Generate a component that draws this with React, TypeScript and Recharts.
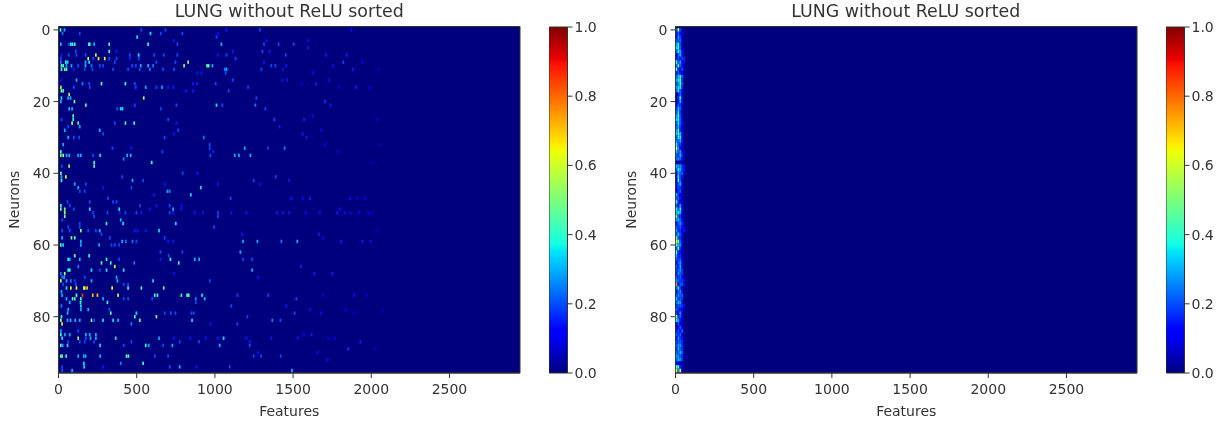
import React from 'react';
import { ScatterChart, Scatter, XAxis, YAxis, ReferenceArea, ComposedChart, Area, Label } from 'recharts';

const titleText = 'LUNG without ReLU sorted';
const featureTicks = [0, 500, 1000, 1500, 2000, 2500];
const neuronTicks = [0, 20, 40, 60, 80];
const colorTicks = [0, 0.2, 0.4, 0.6, 0.8, 1];
const barData = [{ pos: 0, top: 1 }, { pos: 1, top: 1 }];

// [neuron, feature, value]
const leftTop: number[][] = [
  [0,13,.45],[0,38,.3],[0,530,.2],[0,684,.2],[0,1074,.15],[0,1287,.2],
  [1,26,.25],[1,136,.2],[1,588,.35],[1,654,.2],[1,792,.2],[1,1020,.15],
  [2,503,.35],[2,1010,.2],[3,737,.15],[3,1329,.15],
  [4,15,.3],[4,66,.2],[4,79,.4],[4,90,.4],[4,104,.4],[4,194,.4],[4,200,.4],[4,228,.3],[4,324,.4],[4,573,.4],[4,760,.2],[4,1042,.3],[4,1314,.2],[4,1408,.2],[4,1504,.2],
  [6,111,.2],[6,324,.4],[6,371,.15],[6,1116,.15],[6,1304,.2],[6,1350,.15],
  [7,19,.15],[7,66,.2],[7,115,.2],[7,173,.2],[7,239,.55],[7,456,.2],[7,513,.35],[7,611,.2],[7,673,.2],[7,760,.2],[7,1020,.15],[7,1074,.2],[7,1453,.2],
  [8,15,.2],[8,190,.6],[8,222,.2],[8,256,.65],[8,296,.65],[8,324,.2],[8,371,.2],[8,456,.15],[8,513,.2],[8,1133,.2],
  [9,15,.25],[9,47,.4],[9,58,.35],[9,173,.3],[9,196,.35],[9,360,.2],[9,626,.2],[9,748,.2],[9,829,.5],[9,1314,.15],
  [10,19,.45],[10,30,.45],[10,51,.3],[10,83,.3],[10,126,.2],[10,173,.3],[10,211,.25],[10,264,.2],[10,285,.2],[10,471,.2],[10,494,.2],[10,526,.3],[10,573,.3],[10,605,.25],[10,803,.5],[10,950,.45],[10,960,.45],[10,984,.3],[10,1361,.2],[10,1387,.2],[10,1457,.15],
  [11,19,.4],[11,40,.5],[11,51,.45],[11,98,.15],[11,168,.2],[11,217,.2],[11,349,.2],[11,445,.2],[11,520,.2],[11,584,.25],[11,669,.2],[11,739,.2],[11,1063,.25],[11,1074,.3],[11,1297,.2],[11,1436,.15],
  [12,888,.15],[12,914,.15],[12,1069,.2],
  [14,19,.15],[14,115,.3],[14,1116,.2],[14,1431,.15],[14,1463,.15],
  [15,153,.25],[15,196,.2],[15,275,.45],[15,428,.4],[15,488,.2],[15,860,.15],[15,886,.15],[15,1005,.2],
  [16,15,.5],[16,98,.2],[16,200,.2],[16,494,.2],[16,558,.3],[16,626,.2],[16,662,.3],[16,701,.15],[16,733,.15],[16,1212,.2],
  [17,19,.55],[17,30,.4],[17,814,.15],[17,860,.15],[17,1088,.2],
  [18,68,.55],[19,19,.35],[19,62,.3],[19,77,.3],[19,545,.55],[19,1265,.2],
  [20,15,.3],[20,102,.5],
  [21,175,.4],[21,488,.2],[21,754,.2],[21,1010,.35],[21,1048,.2],[21,1259,.25],
  [22,68,.3],[22,87,.3],[22,375,.2],[22,398,.35],[22,409,.35],[22,654,.2],[22,1323,.2],
  [24,94,.45],[25,19,.2],[25,94,.4],[25,701,.2],[25,1380,.2],
  [26,87,.55],[26,126,.45],[26,360,.2],[26,428,.4],[26,484,.4],[26,754,.15],
  [27,62,.2],[27,136,.3],[27,1414,.15],
  [28,40,.3],[28,264,.3],[28,765,.2],[29,285,.2],[29,739,.15],
  [30,62,.3],[30,98,.2],[30,132,.2],[30,679,.2],[30,929,.25],
  [32,30,.3],[32,967,.2],
  [33,345,.2],[33,466,.15],[33,967,.2],[33,1191,.3],[33,1340,.2],[33,1446,.25],
  [34,15,.4],[34,664,.2],[34,988,.15],
  [35,15,.45],[35,30,.55],[35,51,.3],[35,68,.3],[35,126,.3],[35,143,.3],[35,222,.2],[35,266,.35],[35,439,.3],[35,462,.3],[35,971,.2],[35,1127,.3],[35,1154,.3],[35,1227,.3],
  [36,417,.25],[37,228,.4],[37,596,.4],[38,21,.2],[38,228,.4],[38,68,.55],
  [40,15,.45],[40,794,.2],[40,888,.15],
  [41,19,.3],[41,47,.6],[41,407,.2],[41,1389,.2],
  [42,19,.4],[42,473,.3],[42,541,.2],[42,1248,.2],[42,1474,.15],
  [43,104,.3],[43,175,.2],[43,679,.15],[43,1020,.15],[43,1287,.15],
  [44,126,.3],[44,285,.15],[44,466,.2],[44,910,.35],
  [45,136,.2],[45,168,.2],[45,697,.3],[45,711,.25],
  [46,846,.35],[46,611,.15],[47,317,.2],[47,1101,.2],[47,1489,.15],
  [48,58,.2],[48,200,.2],[48,349,.2],[48,371,.2],
  [49,15,.4],[49,72,.2],[49,520,.2],[49,626,.15],[49,711,.2],[49,786,.15],
];

const leftBottom: number[][] = [
  [50,15,.45],[50,40,.5],[50,98,.2],[50,200,.35],[50,388,.35],[50,584,.15],[50,733,.3],[50,786,.15],
  [51,40,.55],[51,222,.2],[51,313,.2],[51,392,.15],[51,428,.2],[51,498,.2],[51,530,.15],[51,711,.2],[51,733,.15],[51,871,.15],[51,924,.15],[51,1020,.2],[51,1105,.15],[51,1202,.15],[51,1397,.15],[51,1436,.15],[51,1474,.15],
  [52,40,.5],[52,228,.2],[52,1020,.2],
  [53,23,.2],[53,398,.3],
  [54,136,.2],[54,307,.4],[54,413,.35],[54,750,.35],
  [55,62,.2],[55,136,.2],[55,995,.2],
  [56,23,.2],[56,72,.2],[56,143,.5],[56,190,.2],[56,239,.2],[56,264,.3],[56,488,.15],[56,505,.15],[56,558,.15],[56,643,.35],
  [57,275,.2],[57,1174,.15],
  [58,23,.3],[58,83,.5],[58,104,.45],[58,328,.2],[58,679,.2],
  [59,143,.3],[59,407,.3],[59,430,.25],[59,473,.25],[59,498,.2],[59,701,.15],[59,733,.15],[59,1180,.3],[59,1272,.3],[59,1425,.25],[59,1527,.3],
  [60,15,.45],[60,30,.35],[60,143,.3],[60,260,.3],[60,339,.2],[60,360,.2],[60,388,.2],
  [62,652,.2],[62,792,.2],[62,1163,.3],
  [63,104,.5],[63,196,.4],[63,705,.2],
  [64,62,.4],[64,72,.3],[64,136,.3],[64,307,.4],[64,388,.2],[64,652,.15],[64,716,.4],[64,871,.3],[64,899,.3],[64,1180,.2],[64,1238,.2],
  [65,275,.45],[65,334,.4],[65,484,.25],[65,769,.4],
  [66,126,.25],[66,360,.6],
  [67,62,.4],[67,72,.4],[67,211,.35],[67,264,.2],[67,307,.35],[67,417,.35],[67,1238,.3],
  [68,15,.25],[68,40,.55],[68,739,.15],
  [69,23,.25],[69,36,.3],[69,168,.2],[69,371,.3],[69,1276,.15],
  [70,15,.55],[70,51,.3],[70,79,.25],[70,104,.2],[70,211,.3],[70,377,.3],[70,605,.35],[70,967,.2],
  [71,30,.2],[71,111,.2],[71,417,.2],[71,445,.2],
  [72,51,.35],[72,79,.65],[72,115,.6],[72,162,.55],[72,168,.6],[72,183,.7],[72,343,.65],[72,445,.4],[72,530,.4],[72,673,.45],
  [73,19,.3],
  [74,23,.3],[74,115,.5],[74,153,.85],[74,219,.7],[74,249,.7],[74,381,.6],[74,616,.4],[74,633,.4],[74,786,.4],[74,822,.45],[74,833,.45],[74,918,.35],[74,1144,.2],[74,1342,.2],
  [75,51,.3],[75,90,.45],[75,104,.45],[75,143,.4],[75,285,.3],[75,417,.2],[75,445,.2],[75,599,.2],[75,878,.25],[75,935,.3],[75,1521,.2],
  [76,72,.3],[76,141,.4],[76,313,.4],[76,878,.2],
  [77,19,.25],[77,143,.35],[77,1105,.2],[77,1457,.15],
  [78,62,.3],[78,143,.3],[78,190,.3],[78,324,.2],
  [79,58,.3],[79,334,.45],[79,498,.35],[79,679,.2],[79,718,.2],[79,748,.2],[79,850,.2],[79,865,.2],[79,1510,.2],
  [80,19,.4],[80,488,.4],[80,626,.5],[80,1208,.2],
  [81,15,.55],[81,58,.3],[81,77,.3],[81,107,.3],[81,136,.3],[81,211,.5],[81,228,.2],[81,285,.35],[81,349,.35],[81,381,.3],[81,520,.45],[81,854,.35],[81,1367,.25],[81,1419,.2],
  [82,23,.6],[82,466,.25],[82,973,.15],[82,1144,.2],
  [84,15,.3],[84,126,.2],
  [85,15,.4],[85,40,.3],[85,72,.3],[85,175,.3],[85,200,.3],[85,239,.3],
  [86,23,.35],[86,126,.55],[86,175,.2],[86,204,.3],[86,239,.3],[86,366,.35],[86,643,.3],[86,739,.15],[86,843,.15],[86,941,.15],[86,1020,.15],[86,1056,.35],[86,1202,.15],[86,1361,.15],[86,1530,.15],
  [87,62,.2],[87,136,.2],[87,168,.2],[87,228,.2],[87,466,.2],[87,775,.2],[87,899,.2],[87,1223,.15],
  [88,15,.45],[88,26,.3],[88,58,.35],[88,266,.35],[88,417,.2],[88,558,.4],[88,577,.3],[88,669,.2],[88,728,.3],[88,1031,.3],[88,1223,.2],
  [90,1276,.15],
  [91,15,.45],[91,23,.45],[91,49,.4],[91,126,.3],[91,162,.3],[91,173,.3],[91,266,.3],[91,435,.45],[91,447,.45],[91,616,.2],[91,701,.2],[91,1248,.2],[91,1295,.2],[91,1421,.2],
  [93,162,.35],[93,398,.25],[93,541,.4],
  [94,23,.2],[94,164,.35],[94,285,.15],[94,711,.2],[94,775,.3],[94,882,.15],[94,1095,.2],
  [95,23,.2],[95,87,.3],[95,1493,.3],
];

const leftFaint: number[][] = [
  [0,1874,.14],[3,1597,.14],[5,1597,.16],[7,1710,.16],[7,1842,.16],[9,1821,.2],[10,1757,.14],[9,1944,.14],[11,1881,.16],[11,2051,.08],[12,1629,.14],[14,1731,.14],[15,1646,.16],[15,1555,.12],[16,1795,.12],[16,1902,.16],[16,1987,.12],[20,1704,.18],[21,1740,.16],[24,1625,.14],[25,1570,.16],[25,2034,.08],[28,1682,.14],[29,1561,.16],[30,1587,.16],[32,1704,.12],[32,2059,.07],[34,1789,.12],[37,2008,.07],[47,1561,.14],[47,1608,.16],[47,1864,.14],[47,1910,.12],[47,1959,.12],
  [51,1580,.14],[51,1672,.14],[51,1783,.16],[50,1800,.14],[51,1832,.14],[51,1864,.1],[51,1923,.12],[51,1981,.12],[51,2008,.1],[57,1665,.16],[58,1693,.14],[59,1806,.16],[59,1942,.16],[59,1996,.14],[56,2038,.06],[66,1550,.16],[68,1636,.16],[68,1751,.16],[74,1693,.12],[74,1891,.14],[74,1970,.12],[78,1608,.14],[79,1676,.14],[78,1836,.12],[79,1891,.1],[78,2072,.06],[85,1570,.12],[85,1619,.16],[86,1725,.1],[86,1768,.12],[87,1930,.16],[90,1655,.14],[89,1853,.18],[89,2023,.08],[92,1721,.14],
];

const rightColumns = [7, 19, 31, 43, 55];
const rightValues: number[][] = [
  [.2,.6,.2,.1,0],[.15,.22,.14,.08,0],[.12,.3,.18,.08,0],[.2,.22,.24,.1,0],[.3,.4,.2,.08,0],[.35,.45,.22,.1,0],[.22,.4,.3,.14,.05],[.12,.22,.32,.14,0],
  [.15,.2,.14,.2,.16],[.45,.22,.3,.1,.14],[.22,.45,.22,.14,.06],[.45,.18,.1,.2,.06],[.16,.22,.14,.1,0],[.22,.32,.4,.22,.05],[.28,.4,.45,.18,0],[.22,.28,.45,.22,0],
  [.28,.34,.42,.18,0],[.22,.38,.22,.14,0],[.06,.14,.24,.1,0],[.06,.18,.38,.14,0],[.03,.14,.32,.14,0],[.14,.22,.18,.1,0],[.18,.32,.22,.08,0],[.22,.38,.18,.08,0],
  [.28,.45,.22,.1,0],[.34,.38,.22,.1,0],[.22,.38,.22,.14,.06],[.22,.32,.18,.08,0],[.28,.45,.18,.1,0],[.32,.45,.32,.14,0],[.22,.38,.38,.14,0],[.28,.22,.32,.14,0],
  [.38,.22,.18,.1,0],[.58,.28,.14,.08,0],[.32,.22,.28,.14,.05],[.22,.18,.32,.18,.05],[.22,.28,.22,.14,0],[.03,.04,.05,.04,0],[.32,.28,.28,.18,.14],[.22,.38,.32,.18,.14],
  [.1,.32,.22,.22,.1],[.14,.38,.18,.14,0],[.1,.45,.22,.1,0],[.14,.22,.32,.1,0],[.14,.22,.18,.1,0],[.1,.18,.22,.08,0],[.32,.18,.1,.08,0],[.22,.22,.14,.06,0],
  [.45,.18,.1,.08,0],[.22,.14,.28,.1,0],[.38,.22,.38,.14,0],[.32,.38,.32,.1,0],[.5,.22,.18,.1,0],[.28,.32,.22,.14,.05],[.14,.22,.28,.18,.05],[.22,.18,.22,.14,.1],
  [.28,.18,.18,.1,.14],[.22,.32,.22,.1,0],[.5,.22,.18,.1,0],[.6,.5,.22,.14,0],[.38,.32,.28,.1,0],[.22,.5,.18,.08,0],[.45,.18,.14,.08,0],[.32,.14,.18,.1,0],
  [.22,.18,.22,.1,0],[.14,.22,.28,.14,0],[.22,.14,.32,.14,0],[.18,.22,.28,.18,0],[.14,.28,.22,.18,0],[.22,.18,.22,.14,.05],[.28,.22,.18,.18,.14],[.75,.14,.22,.22,.14],
  [.22,.38,.18,.1,0],[.14,.22,.28,.14,0],[.18,.28,.22,.22,.06],[.32,.18,.22,.18,0],[.22,.32,.28,.14,0],[.18,.22,.22,.18,.14],[.22,.18,.14,.1,.05],[.18,.14,.28,.1,0],
  [.55,.18,.22,.1,0],[.38,.28,.14,.08,0],[.05,.22,.1,.08,0],[.1,.14,.22,.1,0],[.14,.22,.1,.22,.05],[.22,.18,.22,.1,0],[.14,.28,.18,.14,.05],[.18,.22,.22,.18,.05],
  [.22,.28,.28,.18,.05],[.18,.32,.22,.18,0],[.22,.22,.32,.22,.05],[.28,.28,.22,.18,.05],[.22,.32,.28,.18,0],[.14,.1,.06,.06,0],[.45,.42,.14,.06,0],[.58,.25,.62,.1,0],
];

const jetR = [[0,0],[.35,0],[.66,1],[.89,1],[1,.5]];
const jetG = [[0,0],[.125,0],[.375,1],[.64,1],[.91,0],[1,0]];
const jetB = [[0,.5],[.11,1],[.34,1],[.65,0],[1,0]];
const lerp = (t: number[][], v: number) => {
  for (let i = 1; i < t.length; i++) {
    if (v <= t[i][0]) return t[i-1][1] + (t[i][1]-t[i-1][1])*(v-t[i-1][0])/(t[i][0]-t[i-1][0]);
  }
  return t[t.length-1][1];
};
const jet = (v: number) => `rgb(${Math.round(lerp(jetR,v)*255)},${Math.round(lerp(jetG,v)*255)},${Math.round(lerp(jetB,v)*255)})`;
const jetStops = [0,.11,.125,.34,.35,.375,.5,.64,.65,.66,.89,.91,1];

const toPoints = (rows: number[][]) => rows.map(([neuron, feature, value]) => ({ neuron, feature, value }));
const leftPoints = toPoints([...leftFaint, ...leftTop, ...leftBottom]);
const rightPoints = rightValues.flatMap((row, neuron) =>
  row.map((value, i) => ({ neuron, feature: rightColumns[i], value })).filter(p => p.value > 0));

const textColor = '#333';
const FONT = '"DejaVu Sans"';
const tickStyle = { fontSize: 14, fontFamily: FONT, fill: textColor };
const XMAX = 2951;
const YMIN = -0.95;
const YMAX = 95.7;

const cellLeft = (p: any) => <rect x={p.cx - 0.85} y={p.cy - 1.7} width={1.7} height={3.4} fill={jet(p.payload.value)} />;
const cellRight = (p: any) => <rect x={p.cx - 0.95} y={p.cy - 1.8} width={1.9} height={3.6} fill={jet(p.payload.value)} />;

function Heat({ left, points, shape }: { left: number; points: any[]; shape: any }) {
  return (
    <div style={{ position: 'absolute', left, top: 0 }}>
      <div style={{ position: 'absolute', left: 58.5, width: 461.5, top: 1, textAlign: 'center', fontSize: 17.4, fontFamily: FONT, color: textColor, whiteSpace: 'nowrap' }}>{titleText}</div>
      <ScatterChart width={530} height={423} margin={{ top: 26.5, right: 10, bottom: 0, left: 0 }}>
        <ReferenceArea x1={0} x2={XMAX} y1={YMIN} y2={YMAX} fill="#00007f" fillOpacity={1} stroke="#333" strokeWidth={1} />
        <XAxis type="number" dataKey="feature" domain={[0, XMAX]} ticks={featureTicks} height={50} tick={tickStyle} tickSize={5} tickMargin={6} tickLine={{ stroke: textColor }} axisLine={{ stroke: textColor }} interval={0} allowDataOverflow>
          <Label value="Features" position="insideBottom" offset={7} style={{ fontSize: 14, fontFamily: FONT, fill: textColor }} />
        </XAxis>
        <YAxis type="number" dataKey="neuron" reversed domain={[YMIN, YMAX]} ticks={neuronTicks} width={58.5} tick={tickStyle} tickSize={5} tickMargin={3} tickLine={{ stroke: textColor }} axisLine={{ stroke: textColor }} interval={0} allowDataOverflow>
          <Label value="Neurons" angle={-90} position="insideLeft" offset={14} style={{ fontSize: 14, fontFamily: FONT, fill: textColor, textAnchor: 'middle' }} />
        </YAxis>
        <Scatter data={points} isAnimationActive={false} shape={shape} />
      </ScatterChart>
    </div>
  );
}

function ColorBar({ left, id }: { left: number; id: string }) {
  return (
    <div style={{ position: 'absolute', left, top: 0 }}>
      <ComposedChart width={70} height={423} data={barData} margin={{ top: 27, right: 0, bottom: 50, left: 0 }}>
        <defs>
          <linearGradient id={id} x1="0" y1="1" x2="0" y2="0">
            {jetStops.map(s => <stop key={s} offset={s} stopColor={jet(s)} />)}
          </linearGradient>
        </defs>
        <XAxis type="number" dataKey="pos" domain={[0, 1]} hide />
        <YAxis orientation="right" type="number" domain={[0, 1]} ticks={colorTicks} width={51.5} tick={tickStyle} tickSize={5} tickMargin={2} tickFormatter={(v: number) => v.toFixed(1)} tickLine={{ stroke: textColor }} axisLine={false} interval={0} />
        <Area dataKey="top" type="linear" baseValue={0} fill={`url(#${id})`} fillOpacity={1} stroke="none" isAnimationActive={false} dot={false} activeDot={false} />
        <ReferenceArea x1={0} x2={1} y1={0} y2={1} fill="none" stroke="#333" strokeWidth={1} />
      </ComposedChart>
    </div>
  );
}

export default function App() {
  return (
    <div style={{ position: 'absolute', left: 0, top: 0, width: 1229, height: 423, overflow: 'hidden', background: '#fff', filter: 'blur(0.45px)' }}>
      <Heat left={0} points={leftPoints} shape={cellLeft} />
      <ColorBar left={549} id="jetA" />
      <Heat left={616.5} points={rightPoints} shape={cellRight} />
      <ColorBar left={1166} id="jetB" />
    </div>
  );
}
